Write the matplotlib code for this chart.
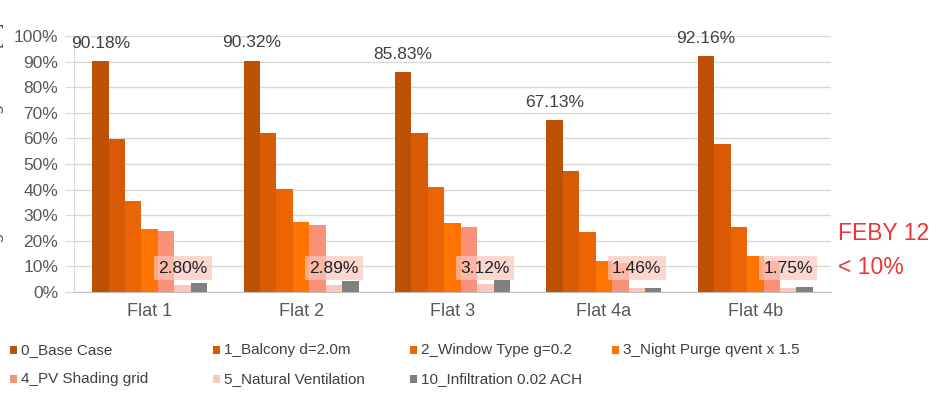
import matplotlib.pyplot as plt
from matplotlib.patches import Rectangle
import numpy as np

plt.rcParams['font.family'] = ['Liberation Sans', 'DejaVu Sans']

flats = ['Flat 1', 'Flat 2', 'Flat 3', 'Flat 4a', 'Flat 4b']
scenarios = ['0_Base Case', '1_Balcony d=2.0m', '2_Window Type g=0.2',
             '3_Night Purge qvent x 1.5', '4_PV Shading grid',
             '5_Natural Ventilation', '10_Infiltration 0.02 ACH']
colors = ['#BC5005', '#D85A05', '#EC6504', '#FF7300', '#F99278', '#FBC7BC', '#808080']

base_case = [90.18, 90.32, 85.83, 67.13, 92.16]
balcony = [59.6, 62.2, 62.2, 47.1, 57.7]
window = [35.4, 40.4, 41.1, 23.4, 25.2]
night_purge = [24.5, 27.3, 27.1, 12.0, 14.0]
pv_shading = [24.0, 26.0, 25.5, 11.3, 12.0]
nat_vent = [2.80, 2.89, 3.12, 1.46, 1.75]
infiltration = [3.4, 4.4, 4.6, 1.7, 1.8]

series = [base_case, balcony, window, night_purge, pv_shading, nat_vent, infiltration]

fig = plt.figure(figsize=(9.5, 4.07), dpi=100)
ax = fig.add_axes([74 / 950, 1 - 292 / 407, (831 - 74) / 950, (292 - 36) / 407])

x = np.arange(len(flats))
w = 0.76 / len(series)
for j, vals in enumerate(series):
    ax.bar(x + (j - 3) * w, vals, width=w, color=colors[j], zorder=2)

# labels on base case bars
for i, v in enumerate(base_case):
    ax.text(x[i] - 3 * w, v + 7, f'{v:.2f}%', ha='center', va='center',
            fontsize=12.5, color='#404040', zorder=4)

# labels on natural ventilation bars
for i, v in enumerate(nat_vent):
    ax.text(x[i] + 2 * w, 9.3, f'{v:.2f}%', ha='center', va='center',
            fontsize=12.5, color='#202020', zorder=4,
            bbox=dict(boxstyle='square,pad=0.25', facecolor='#FBC7BC',
                      edgecolor='none', alpha=0.7))

ax.set_xlim(-0.5, len(flats) - 0.5)
ax.set_ylim(0, 100)
ax.set_yticks(np.arange(0, 101, 10))
ax.set_yticklabels([f'{t}%' for t in range(0, 101, 10)])
ax.set_xticks(x)
ax.set_xticklabels(flats)
ax.grid(axis='y', color='#d9d9d9', linewidth=1, zorder=0)
ax.tick_params(axis='y', length=6.5, color='#d9d9d9', labelsize=12.5,
               labelcolor='#595959', pad=5)
ax.tick_params(axis='x', length=0, labelsize=13, labelcolor='#595959', pad=8)
for s in ['top', 'right']:
    ax.spines[s].set_visible(False)
ax.spines['left'].set_color('#d9d9d9')
ax.spines['bottom'].set_color('#bfbfbf')

# axis title, mostly cut off at the left edge as in the source image
fig.text(4 / 950, 0.59, 'Percentage of Overheating Hours [%]', rotation=90,
         ha='right', va='center', fontsize=12.5, color='#595959')

# legend
col_x = [10, 213, 410, 612]
row_y = [350, 379]
for k, (lab, col) in enumerate(zip(scenarios, colors)):
    px = col_x[k % 4]
    py = row_y[k // 4]
    fig.add_artist(Rectangle((px / 950, 1 - (py + 4) / 407), 7 / 950, 8 / 407,
                             transform=fig.transFigure, facecolor=col,
                             edgecolor='none'))
    fig.text((px + 11) / 950, 1 - py / 407, lab, ha='left', va='center',
             fontsize=11, color='#404040')

fig.text(838 / 950, 1 - 233 / 407, 'FEBY 12', ha='left', va='center',
         fontsize=16.5, color='#E8363A')
fig.text(838 / 950, 1 - 267 / 407, '< 10%', ha='left', va='center',
         fontsize=16.5, color='#E8363A')

fig.savefig('out.png', dpi=100)
